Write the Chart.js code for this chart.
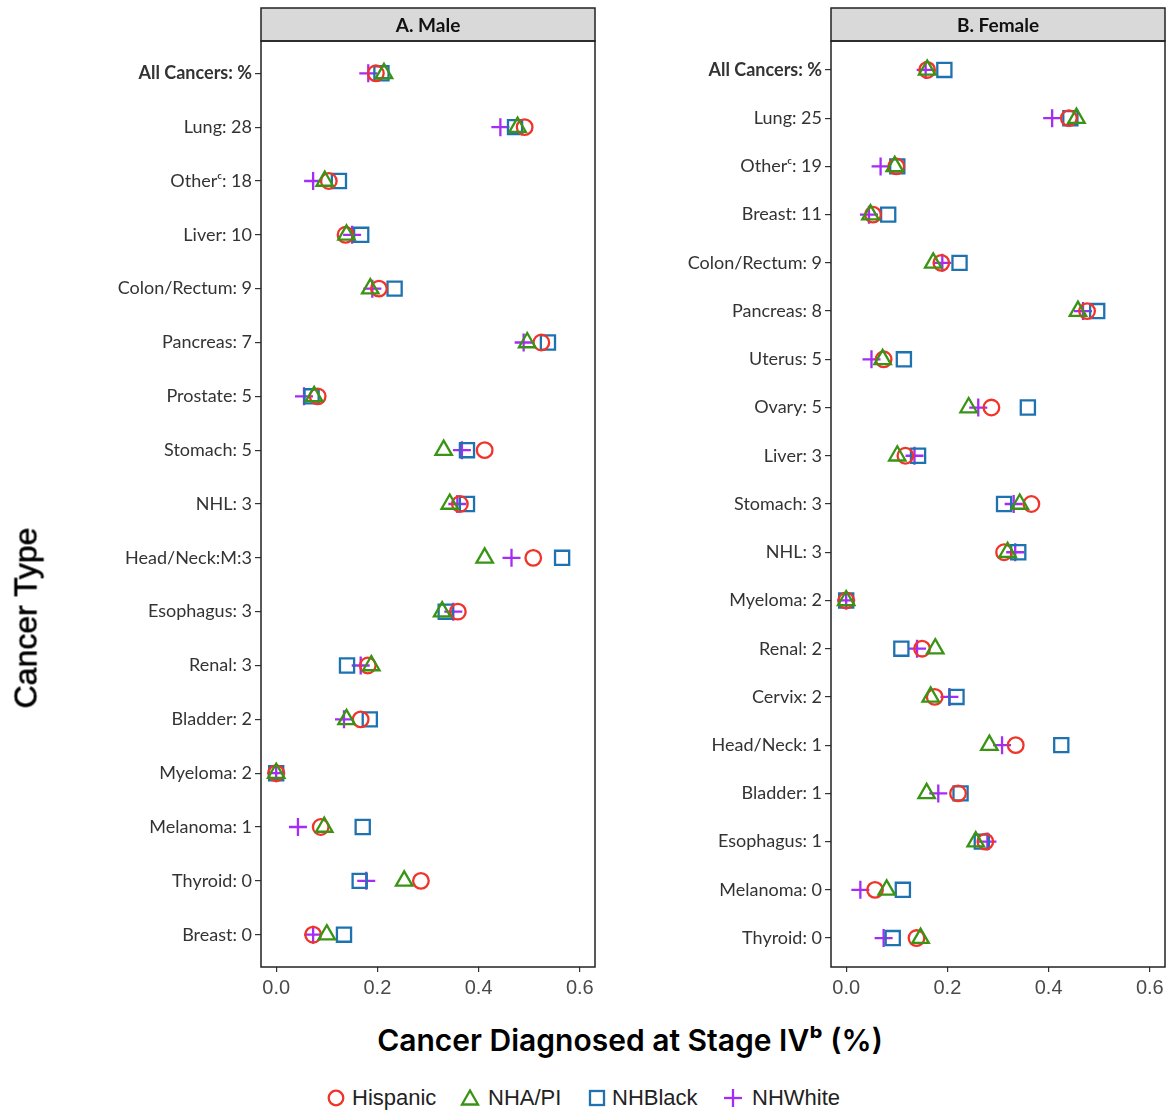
<!DOCTYPE html>
<html>
<head>
<meta charset="utf-8">
<script src="https://cdn.jsdelivr.net/npm/chart.js@4.4.1/dist/chart.umd.min.js"></script>
<style>
  html, body { margin: 0; padding: 0; background: #fff; }
  body { width: 1169px; height: 1111px; position: relative; overflow: hidden; font-family: 'Liberation Sans', Arial, sans-serif; }
  .panel { position: absolute; top: 0; width: 600px; height: 1010px; }
  #malePanel { left: 0; }
  #femalePanel { left: 570px; }
  #yTitle { position: absolute; left: 26px; top: 618px; transform: translate(-50%, -50%) rotate(-90deg);
            font: 32px 'Liberation Sans', Arial, sans-serif; color: #000; white-space: nowrap; -webkit-text-stroke: 0.6px #000; }
  #xTitle { position: absolute; left: 630px; top: 1040px; transform: translate(-50%, -50%);
            font: 600 30px Inter, 'Open Sans', sans-serif; color: #000; white-space: nowrap; }
  .lg { position: absolute; top: 1086px; font-size: 22px; line-height: 24px; color: #222; white-space: nowrap; }
  .lgIcon { position: absolute; top: 1088px; }
</style>
</head>
<body>
<div class="panel" id="malePanel"><canvas id="maleChart"></canvas></div>
<div class="panel" id="femalePanel"><canvas id="femaleChart"></canvas></div>
<div id="yTitle">Cancer Type</div>
<div id="xTitle">Cancer Diagnosed at Stage IVᵇ (%)</div>
<div id="legend"></div>

<script>
// ---- categories (top to bottom) ----
const maleCategories = ["All Cancers: %", "Lung: 28", "Otherᶜ: 18", "Liver: 10", "Colon/Rectum: 9",
  "Pancreas: 7", "Prostate: 5", "Stomach: 5", "NHL: 3", "Head/Neck:M:3", "Esophagus: 3",
  "Renal: 3", "Bladder: 2", "Myeloma: 2", "Melanoma: 1", "Thyroid: 0", "Breast: 0"];
const femaleCategories = ["All Cancers: %", "Lung: 25", "Otherᶜ: 19", "Breast: 11", "Colon/Rectum: 9",
  "Pancreas: 8", "Uterus: 5", "Ovary: 5", "Liver: 3", "Stomach: 3", "NHL: 3", "Myeloma: 2",
  "Renal: 2", "Cervix: 2", "Head/Neck: 1", "Bladder: 1", "Esophagus: 1", "Melanoma: 0", "Thyroid: 0"];

// ---- share diagnosed at stage IV, male ----
const maleHispanic = [0.197, 0.491, 0.104, 0.137, 0.203, 0.524, 0.082, 0.412, 0.363, 0.508, 0.359, 0.181, 0.167, 0.000, 0.088, 0.286, 0.073];
const maleNHAPI    = [0.213, 0.477, 0.096, 0.139, 0.186, 0.496, 0.075, 0.331, 0.343, 0.412, 0.328, 0.188, 0.139, 0.000, 0.095, 0.253, 0.100];
const maleNHBlack  = [0.208, 0.472, 0.124, 0.168, 0.234, 0.537, 0.070, 0.377, 0.377, 0.565, 0.335, 0.140, 0.185, 0.000, 0.171, 0.165, 0.134];
const maleNHWhite  = [0.182, 0.443, 0.073, 0.150, 0.190, 0.489, 0.055, 0.367, 0.358, 0.465, 0.350, 0.167, 0.134, 0.000, 0.043, 0.178, 0.073];

// ---- share diagnosed at stage IV, female ----
const femaleHispanic = [0.160, 0.440, 0.099, 0.053, 0.188, 0.476, 0.074, 0.287, 0.117, 0.366, 0.312, 0.000, 0.150, 0.175, 0.335, 0.221, 0.275, 0.057, 0.139];
const femaleNHAPI    = [0.160, 0.455, 0.096, 0.048, 0.172, 0.458, 0.072, 0.242, 0.101, 0.343, 0.319, 0.000, 0.176, 0.167, 0.283, 0.159, 0.256, 0.080, 0.147];
const femaleNHBlack  = [0.194, 0.443, 0.101, 0.083, 0.224, 0.496, 0.114, 0.359, 0.142, 0.312, 0.340, 0.000, 0.109, 0.218, 0.425, 0.226, 0.268, 0.112, 0.092];
const femaleNHWhite  = [0.157, 0.407, 0.068, 0.045, 0.190, 0.468, 0.050, 0.261, 0.135, 0.331, 0.334, 0.000, 0.140, 0.204, 0.308, 0.182, 0.279, 0.028, 0.074];

const xTicks = [0.0, 0.2, 0.4, 0.6];
const panelTitles = ["A. Male", "B. Female"];

// ---- group styling ----
const groups = [
  { name: "Hispanic", color: "#F0342A", style: "circle",   radius: 7.8 },
  { name: "NHA/PI",   color: "#3A9414", style: "triangle", radius: 9.5 },
  { name: "NHBlack",  color: "#1E72B0", style: "rect",     radius: 10 },
  { name: "NHWhite",  color: "#A52CF5", style: "cross",    radius: 9 }
];
// first dataset is painted last (on top)
const drawOrder = ["NHA/PI", "Hispanic", "NHBlack", "NHWhite"];

const labelFont = "Lato, 'Open Sans', sans-serif";
const tickFont = "'Liberation Sans', Arial, sans-serif";

// panel frame and grey strip header
const stripPlugin = {
  id: 'strip',
  afterDraw(chart, args, opts) {
    const { ctx, chartArea: a } = chart;
    ctx.save();
    ctx.fillStyle = '#D9D9D9';
    ctx.fillRect(a.left, 8, a.right - a.left, a.top - 8);
    ctx.strokeStyle = '#222';
    ctx.lineWidth = 1.5;
    ctx.strokeRect(a.left, 8, a.right - a.left, a.top - 8);
    ctx.strokeRect(a.left, a.top, a.right - a.left, a.bottom - a.top);
    ctx.fillStyle = '#111';
    ctx.font = "bold 19px " + labelFont;
    ctx.textAlign = 'center';
    ctx.textBaseline = 'middle';
    ctx.fillText(opts.title, (a.left + a.right) / 2, (8 + a.top) / 2 + 1);
    ctx.restore();
  }
};

function buildChart(canvasId, categories, values, title) {
  const datasets = drawOrder.map(name => {
    const g = groups.find(q => q.name === name);
    return {
      label: g.name,
      data: values[name].map((v, i) => ({ x: v, y: i })),
      pointStyle: g.style,
      pointRadius: g.radius,
      pointHoverRadius: g.radius,
      pointBorderWidth: 2.3,
      pointBorderColor: g.color,
      pointBackgroundColor: 'rgba(0,0,0,0)',
      showLine: false
    };
  });
  return new Chart(document.getElementById(canvasId), {
    type: 'scatter',
    data: { datasets },
    plugins: [stripPlugin],
    options: {
      responsive: true,
      maintainAspectRatio: false,
      animation: false,
      events: [],
      layout: { autoPadding: false, padding: { top: 41, right: 5, left: 0, bottom: 0 } },
      plugins: { legend: { display: false }, tooltip: { enabled: false }, strip: { title } },
      scales: {
        x: {
          type: 'linear', min: -0.03, max: 0.63,
          afterBuildTicks: s => { s.ticks = xTicks.map(v => ({ value: v })); },
          afterFit: s => { s.height = 43; s.paddingLeft = 0; s.paddingRight = 0; },
          grid: { display: true, drawOnChartArea: false, drawTicks: true, tickLength: 5, color: '#333', lineWidth: 1.2 },
          border: { display: false },
          ticks: { callback: v => Number(v).toFixed(1), color: '#4a4a4a', padding: 4,
                   font: { family: tickFont, size: 20 }, maxRotation: 0 }
        },
        y: {
          type: 'linear', reverse: true, min: -0.6, max: categories.length - 1 + 0.6,
          afterBuildTicks: s => { s.ticks = categories.map((_, i) => ({ value: i })); },
          afterFit: s => { s.width = 261; s.paddingTop = 0; s.paddingBottom = 0; },
          grid: { display: true, drawOnChartArea: false, drawTicks: true, tickLength: 6, color: '#333', lineWidth: 1.2 },
          border: { display: false },
          ticks: {
            autoSkip: false, padding: 3, color: '#333',
            callback: v => categories[v] ?? '',
            font: c => ({ family: labelFont, size: 18, weight: (c.tick && c.tick.value === 0) ? 'bold' : 'normal' })
          }
        }
      }
    }
  });
}

buildChart('maleChart', maleCategories,
  { "Hispanic": maleHispanic, "NHA/PI": maleNHAPI, "NHBlack": maleNHBlack, "NHWhite": maleNHWhite }, panelTitles[0]);
buildChart('femaleChart', femaleCategories,
  { "Hispanic": femaleHispanic, "NHA/PI": femaleNHAPI, "NHBlack": femaleNHBlack, "NHWhite": femaleNHWhite }, panelTitles[1]);

// ---- legend ----
const legendIcons = {
  circle:   c => `<circle cx="10" cy="10" r="7.3" fill="none" stroke="${c}" stroke-width="2.3"/>`,
  triangle: c => `<polygon points="10,2.5 18,16.5 2,16.5" fill="none" stroke="${c}" stroke-width="2.3"/>`,
  rect:     c => `<rect x="3" y="3" width="14" height="14" fill="none" stroke="${c}" stroke-width="2.3"/>`,
  cross:    c => `<line x1="10" y1="1" x2="10" y2="19" stroke="${c}" stroke-width="2.3"/><line x1="1" y1="10" x2="19" y2="10" stroke="${c}" stroke-width="2.3"/>`
};
const legendIconX = [326, 460, 587, 723];
const legendTextX = [352, 488, 612, 752];
const legend = document.getElementById('legend');
groups.forEach((g, i) => {
  const icon = document.createElement('div');
  icon.className = 'lgIcon';
  icon.style.left = legendIconX[i] + 'px';
  icon.innerHTML = `<svg width="20" height="20" viewBox="0 0 20 20">${legendIcons[g.style](g.color)}</svg>`;
  legend.appendChild(icon);
  const t = document.createElement('div');
  t.className = 'lg';
  t.style.left = legendTextX[i] + 'px';
  t.textContent = g.name;
  legend.appendChild(t);
});
</script>
</body>
</html>
